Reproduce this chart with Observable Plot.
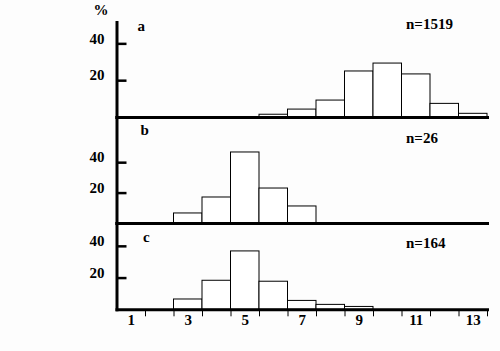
<!DOCTYPE html>
<html><head><meta charset="utf-8">
<script src="https://cdn.jsdelivr.net/npm/d3@7"></script>
<script src="https://cdn.jsdelivr.net/npm/@observablehq/plot@0.6"></script>
<style>
html,body{margin:0;padding:0;background:#fdfdfd;}
#chart{position:relative;width:500px;height:351px;background:#fdfdfd;overflow:hidden;}
#chart svg{position:absolute;left:0;}
#chart svg text{font-family:"Liberation Serif","Times New Roman",Times,"DejaVu Serif",serif !important;}
</style></head><body><div id="chart"></div>
<script>
// ---- data ----
const sizeClasses = [1,2,3,4,5,6,7,8,9,10,11,12,13];
const xTickLabels = [1,3,5,7,9,11,13];
const yTicks = [20,40];
const yUnit = "%";
const panelNames = ["a","b","c"];
const sampleSizes = ["n=1519","n=26","n=164"];

const binsA = [6,7,8,9,10,11,12,13];
const pctA  = [1.5,4.3,9.2,25.0,29.3,23.4,7.4,2.0];
const binsB = [3,4,5,6,7];
const pctB  = [6.6,17.1,46.7,23.0,11.2];
const binsC = [3,4,5,6,7,8,9];
const pctC  = [6.5,18.3,36.8,17.7,5.6,3.1,1.8];

// ---- layout (styling only) ----
const layout = [
  {top:0,   height:117, marginTop:22, marginBottom:0,    yMax:51.6, letterDx:20.5, letterDy:3.7,  nDy:2},
  {top:117, height:106, marginTop:0,  marginBottom:0,    yMax:69.7, letterDx:23.5, letterDy:13,   nDy:21},
  {top:223, height:128, marginTop:0,  marginBottom:41.7, yMax:54.4, letterDx:26,   letterDy:13.7, nDy:20}
];
const series = [[binsA,pctA],[binsB,pctB],[binsC,pctC]];
const xDomain = [d3.min(sizeClasses) - 0.5, d3.max(sizeClasses) + 0.5];
const xEdges = sizeClasses.map(k => k + 0.5);
const serif = '"Liberation Serif", "Times New Roman", Times, "DejaVu Serif", serif';

const chart = document.getElementById("chart");
series.forEach(([bins, pct], i) => {
  const L = layout[i];
  const data = bins.map((x, j) => ({x, v: pct[j]}));
  const marks = [
    Plot.rectY(data, {x1: d => d.x - 0.5, x2: d => d.x + 0.5, y: "v", fill: "white", stroke: "black", strokeWidth: 1}),
    Plot.frame({anchor: "left", stroke: "black", strokeWidth: 3, strokeLinecap: "square"}),
    Plot.frame({anchor: "bottom", stroke: "black", strokeWidth: 3, strokeLinecap: "square"}),
    Plot.axisY(yTicks, {tickSize: -10, strokeWidth: 2.5, fill: "none", label: null}),
    Plot.axisY(yTicks, {tickSize: 0, tickPadding: 12.5, dy: -5, stroke: "none", fill: "black", label: null}),
    Plot.text([panelNames[i]], {text: d => d, frameAnchor: "top-left", dx: L.letterDx, dy: L.letterDy, textAnchor: "start", lineAnchor: "middle", fill: "black"}),
    Plot.text([sampleSizes[i]], {text: d => d, frameAnchor: "top-left", dx: 289, dy: L.nDy, textAnchor: "start", lineAnchor: "middle", fill: "black"})
  ];
  if (i === 0) {
    marks.push(Plot.text([yUnit], {text: d => d, frameAnchor: "top-left", dx: -16, dy: -12.5, textAnchor: "middle", lineAnchor: "middle", fill: "black"}));
  }
  if (i === 2) {
    marks.push(Plot.axisX(xEdges, {tickSize: 7, strokeWidth: 1, fill: "none", label: null}));
    marks.push(Plot.axisX(xTickLabels, {tickSize: 0, tickPadding: 5, stroke: "none", fill: "black", label: null}));
  }
  const svg = Plot.plot({
    width: 500,
    height: L.height,
    marginLeft: 116.5,
    marginRight: 13,
    marginTop: L.marginTop,
    marginBottom: L.marginBottom,
    x: {domain: xDomain, axis: i === 2 ? undefined : null},
    y: {domain: [0, L.yMax]},
    style: {background: "transparent", overflow: "visible", fontFamily: serif, fontSize: "15px", fontWeight: "bold", color: "black"},
    marks
  });
  svg.style.top = L.top + "px";
  chart.appendChild(svg);
});
</script></body></html>
